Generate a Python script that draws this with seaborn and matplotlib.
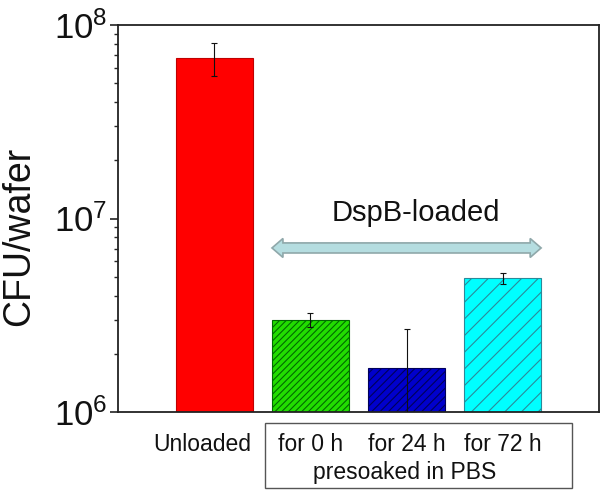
import numpy as np
import pandas as pd
import seaborn as sns
import matplotlib.pyplot as plt
import matplotlib.patches as mpatches
import matplotlib.transforms as mtransforms

# Data
labels = ['Unloaded', 'for 0 h', 'for 24 h', 'for 72 h']
cfu = [6.75e7, 2.99e6, 1.69e6, 4.91e6]
err_low = [5.45e7, 2.74e6, 0.5e6, 4.58e6]
err_high = [8.07e7, 3.24e6, 2.69e6, 5.25e6]

bar_colors = ['#ff0000', '#22dd00', '#0000cc', '#00ffff']
edge_colors = ['#c00000', '#006a00', '#00005a', '#2a8a9a']
hatches = ['', '/////', '////', '//']

df = pd.DataFrame({'group': labels, 'cfu': cfu})

sns.set_theme(style='ticks')
plt.rcParams['font.family'] = ['Liberation Sans', 'DejaVu Sans']
plt.rcParams['mathtext.default'] = 'regular'
plt.rcParams['hatch.linewidth'] = 0.8

fig = plt.figure(figsize=(6, 4.9), dpi=100)
ax = fig.add_axes([0.197, 0.159, 0.801, 0.790])

sns.barplot(data=df, x='group', y='cfu', hue='group', palette=bar_colors,
            legend=False, width=0.8, saturation=1, ax=ax)
ax.set_yscale('log')

for patch, ec, h in zip(ax.patches, edge_colors, hatches):
    patch.set_edgecolor(ec)
    patch.set_linewidth(0.8)
    patch.set_hatch(h)

# error bars
xpos = np.arange(len(labels))
yerr = [np.array(cfu) - np.array(err_low), np.array(err_high) - np.array(cfu)]
ax.errorbar(xpos, cfu, yerr=yerr, fmt='none', ecolor='#111111',
            elinewidth=0.8, capsize=2.5, capthick=0.8, zorder=5)

ax.set_ylim(1e6, 1e8)
ax.set_xlim(-1, 4)

# axes styling
for s in ax.spines.values():
    s.set_linewidth(1.3)
    s.set_color('#222222')
ax.tick_params(axis='y', which='major', length=6, width=1.1, labelsize=25,
               direction='out', pad=2, colors='#111111')
ax.tick_params(axis='y', which='minor', length=3, width=1.0, direction='out')
ax.tick_params(axis='x', length=0, labelsize=16.5, pad=15, colors='#111111')
ax.set_xlabel('')
ax.set_ylabel('CFU/wafer', fontsize=27, color='#111111')
ax.yaxis.set_label_coords(-0.168, 0.455)

ax.set_xticks(xpos)
ax.set_xticklabels(labels)
offset = mtransforms.ScaledTranslation(-0.12, 0, fig.dpi_scale_trans)
lab0 = ax.get_xticklabels()[0]
lab0.set_transform(lab0.get_transform() + offset)

# double-headed arrow for the DspB-loaded group
trans = mtransforms.blended_transform_factory(ax.transData, ax.transAxes)
x0, x1 = 0.60, 3.40
yc, sh, hh, hl = 0.424, 0.013, 0.0245, 0.114
arrow_pts = [(x0, yc), (x0 + hl, yc + hh), (x0 + hl, yc + sh), (x1 - hl, yc + sh),
             (x1 - hl, yc + hh), (x1, yc), (x1 - hl, yc - hh), (x1 - hl, yc - sh),
             (x0 + hl, yc - sh), (x0 + hl, yc - hh)]
ax.add_patch(mpatches.Polygon(arrow_pts, closed=True, transform=trans,
                              facecolor='#b5dde0', edgecolor='#8fa8aa',
                              linewidth=1.2, zorder=6, clip_on=False))
ax.text(2.10, 0.514, 'DspB-loaded', transform=trans, ha='center', va='center',
        fontsize=21, color='#111111')

# box around the presoak labels
fig.patches.append(mpatches.Rectangle((0.4417, 0.004), 0.5117, 0.1327,
                                      transform=fig.transFigure, fill=False,
                                      edgecolor='#555555', linewidth=1.0))
fig.text(0.675, 0.0367, 'presoaked in PBS', ha='center', va='center',
         fontsize=16.5, color='#111111')

fig.savefig('out.png', dpi=100)
